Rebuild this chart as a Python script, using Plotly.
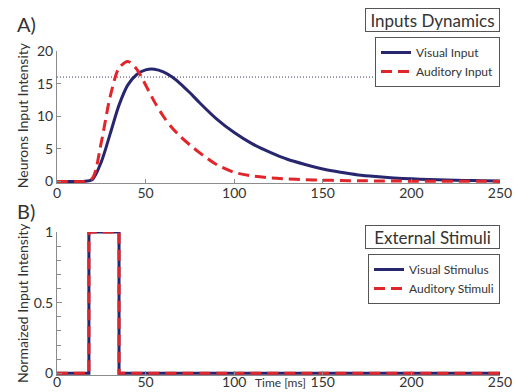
import plotly.graph_objects as go

# ---- data ----
time_ms = [0, 5, 10, 15, 20, 25, 30, 35, 40, 45, 50, 55, 60, 65, 70, 75, 80, 90, 100,
           110, 120, 130, 140, 150, 160, 170, 180, 190, 200, 210, 220, 230, 240, 250]
visual_input = [0, 0, 0, 0, 0.3, 3.0, 7.3, 11.7, 14.8, 16.4, 17.1, 17.2, 16.8, 16.0, 14.9,
                13.6, 12.2, 9.6, 7.5, 5.8, 4.5, 3.4, 2.6, 1.9, 1.4, 1.0, 0.75, 0.55, 0.4,
                0.3, 0.22, 0.16, 0.12, 0.09]
auditory_input = [0, 0, 0, 0, 0.5, 6.0, 13.0, 17.4, 18.4, 17.2, 14.8, 12.2, 10.0, 8.2, 6.8,
                  5.6, 4.5, 2.6, 1.4, 0.85, 0.55, 0.38, 0.28, 0.2, 0.15, 0.11, 0.08, 0.06,
                  0.05, 0.04, 0.03, 0.02, 0.02, 0.01]
threshold = 16

stim_time = [0, 18, 18, 35, 35, 250]
visual_stimulus = [0, 0, 1, 1, 0, 0]
auditory_stimulus = [0, 0, 1, 1, 0, 0]

x_ticks = [0, 50, 100, 150, 200, 250]
top_y_ticks = [0, 5, 10, 15, 20]
bottom_y_ticks = [0, 0.5, 1]

BLUE = "#27266f"
RED = "#e0262b"
FONT = "Lato"
TXT = "#333333"
AX = "#8c8c8c"

fig = go.Figure()

# Top panel
fig.add_trace(go.Scatter(x=[0, 250], y=[threshold, threshold], mode="lines",
                         line=dict(color="#3a3a5a", width=1, dash="1px,2px"),
                         showlegend=False, hoverinfo="skip", xaxis="x", yaxis="y"))
fig.add_trace(go.Scatter(x=time_ms, y=visual_input, mode="lines", name="Visual Input",
                         line=dict(color=BLUE, width=3, shape="spline", smoothing=0.8),
                         xaxis="x", yaxis="y", legend="legend"))
fig.add_trace(go.Scatter(x=time_ms, y=auditory_input, mode="lines", name="Auditory Input",
                         line=dict(color=RED, width=3, dash="11px,6px", shape="spline", smoothing=0.8),
                         xaxis="x", yaxis="y", legend="legend"))

# Bottom panel
fig.add_trace(go.Scatter(x=stim_time, y=visual_stimulus, mode="lines", name="Visual Stimulus",
                         line=dict(color=BLUE, width=3),
                         xaxis="x2", yaxis="y2", legend="legend2"))
fig.add_trace(go.Scatter(x=stim_time, y=auditory_stimulus, mode="lines", name="Auditory Stimuli",
                         line=dict(color=RED, width=3, dash="11px,6px"),
                         xaxis="x2", yaxis="y2", legend="legend2"))

common_x = dict(range=[0, 250], tickvals=x_ticks, ticks="inside", ticklen=4, tickcolor=AX,
                showline=True, linecolor=AX, linewidth=1, showgrid=False, zeroline=False,
                tickfont=dict(family=FONT, size=14, color=TXT), fixedrange=True)

legend_common = dict(x=1, xanchor="right", yanchor="top", bgcolor="white",
                     bordercolor="#555555", borderwidth=1,
                     font=dict(family=FONT, size=12, color=TXT), tracegroupgap=0,
                     itemwidth=30)

fig.update_layout(
    width=516, height=392,
    margin=dict(l=57, r=16, t=51, b=17, autoexpand=False),
    paper_bgcolor="white", plot_bgcolor="white",
    font=dict(family=FONT, color=TXT),
    xaxis=dict(domain=[0, 1], anchor="y", ticklabelstandoff=-3, **common_x),
    yaxis=dict(domain=[0.5923, 1], anchor="x", range=[-0.25, 20], tickvals=top_y_ticks,
               ticks="inside", ticklen=4, tickcolor=AX, showline=True, linecolor=AX,
               showgrid=False, zeroline=False,
               tickfont=dict(family=FONT, size=14, color=TXT)),
    xaxis2=dict(domain=[0, 1], anchor="y2", ticklabelstandoff=-6, **common_x),
    yaxis2=dict(domain=[0, 0.4414], anchor="x2", range=[-0.012, 1], tickvals=bottom_y_ticks,
                ticktext=["0", "0.5", "1"],
                ticks="inside", ticklen=5, tickcolor=AX, showline=True, linecolor=AX,
                showgrid=False, zeroline=False,
                minor=dict(dtick=0.1, ticks="inside", ticklen=4, tickcolor=AX),
                tickfont=dict(family=FONT, size=14, color=TXT)),
    legend=dict(y=1.0432, **legend_common),
    legend2=dict(y=0.3735, **legend_common),
    showlegend=True,
)

annotations = [
    dict(text="A)", x=-0.0948, y=1.1265, xanchor="left", yanchor="top",
         font=dict(size=20, family=FONT, color=TXT)),
    dict(text="B)", x=-0.0948, y=0.549, xanchor="left", yanchor="top",
         font=dict(size=20, family=FONT, color=TXT)),
    dict(text="Inputs Dynamics", x=1, y=1.1327, xanchor="right", yanchor="top",
         width=133, height=22, bordercolor="#555555", borderwidth=1, borderpad=0,
         bgcolor="white", font=dict(size=17, family=FONT, color=TXT)),
    dict(text="External Stimuli", x=1, y=0.463, xanchor="right", yanchor="top",
         width=133, height=22, bordercolor="#555555", borderwidth=1, borderpad=0,
         bgcolor="white", font=dict(size=17, family=FONT, color=TXT)),
    dict(text="Neurons Input Intensity", x=-0.079, y=0.802, xanchor="center", yanchor="middle",
         textangle=-90, font=dict(size=14, family=FONT, color=TXT)),
    dict(text="Normaized Input Intensity", x=-0.079, y=0.222, xanchor="center", yanchor="middle",
         textangle=-90, font=dict(size=14, family=FONT, color=TXT)),
    dict(text="Time [ms]", x=0.505, y=0.006, xanchor="center", yanchor="top",
         font=dict(size=12, family=FONT, color=TXT)),
]
for a in annotations:
    a.update(xref="paper", yref="paper", showarrow=False)
fig.update_layout(annotations=annotations)

fig.write_html("out.html", config={"displayModeBar": False},
               post_script="document.body.style.margin='0px';document.body.style.overflow='hidden';")
